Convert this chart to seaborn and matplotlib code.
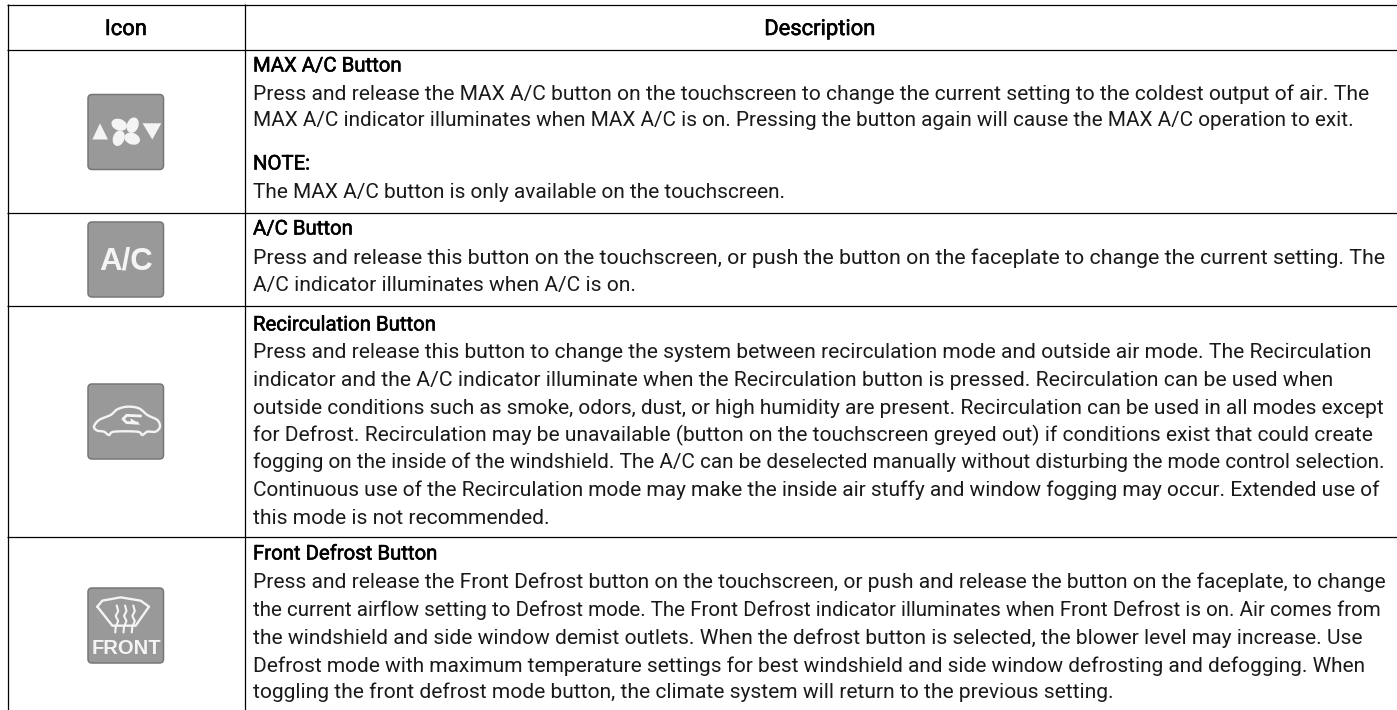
import numpy as np
import matplotlib
matplotlib.use("Agg")
import matplotlib.pyplot as plt
import matplotlib.patheffects as pe
from matplotlib.patches import FancyBboxPatch, Polygon, Ellipse
import seaborn as sns

WIDTH, HEIGHT = 1397, 710
HEADERS = ["Icon", "Description"]
HEADINGS = ["MAX A/C Button", "NOTE:", "A/C Button", "Recirculation Button", "Front Defrost Button"]
HEADING_Y = [71.5, 169.5, 234.5, 330.5, 559.5]
BODY = [
    "Press and release the MAX A/C button on the touchscreen to change the current setting to the coldest output of air. The",
    "MAX A/C indicator illuminates when MAX A/C is on. Pressing the button again will cause the MAX A/C operation to exit.",
    "The MAX A/C button is only available on the touchscreen.",
    "Press and release this button on the touchscreen, or push the button on the faceplate to change the current setting. The",
    "A/C indicator illuminates when A/C is on.",
    "Press and release this button to change the system between recirculation mode and outside air mode. The Recirculation",
    "indicator and the A/C indicator illuminate when the Recirculation button is pressed. Recirculation can be used when",
    "outside conditions such as smoke, odors, dust, or high humidity are present. Recirculation can be used in all modes except",
    "for Defrost. Recirculation may be unavailable (button on the touchscreen greyed out) if conditions exist that could create",
    "fogging on the inside of the windshield. The A/C can be deselected manually without disturbing the mode control selection.",
    "Continuous use of the Recirculation mode may make the inside air stuffy and window fogging may occur. Extended use of",
    "this mode is not recommended.",
    "Press and release the Front Defrost button on the touchscreen, or push and release the button on the faceplate, to change",
    "the current airflow setting to Defrost mode. The Front Defrost indicator illuminates when Front Defrost is on. Air comes from",
    "the windshield and side window demist outlets. When the defrost button is selected, the blower level may increase. Use",
    "Defrost mode with maximum temperature settings for best windshield and side window defrosting and defogging. When",
    "toggling the front defrost mode button, the climate system will return to the previous setting.",
]
BODY_Y = [99.5, 126.5, 198.5, 263.5, 291.5, 358.5, 386, 413.5, 441, 468.5, 496, 523.5,
          588.5, 615.5, 643.5, 671.5, 698.5]
BODY_END = [1370, 1355, 787, 1386, None, 1375, 1333, 1386, 1374, 1386, 1383, None,
            1386, 1386, 1367, 1369, None]
ROW_RULES = [4.5, 49.5, 212.5, 305.5, 536.5]
ICON_TOPS = [94.5, 222, 384, 588]

sns.set_theme(style="white")
plt.rcParams["font.family"] = ["Roboto", "DejaVu Sans"]
fig = plt.figure(figsize=(WIDTH / 100, HEIGHT / 100), dpi=100)
ax = fig.add_axes([0, 0, 1, 1])
ax.set_xlim(0, WIDTH)
ax.set_ylim(HEIGHT, 0)
ax.set_axis_off()

for y in ROW_RULES:
    ax.plot([7, WIDTH], [y, y], color="black", lw=0.9, solid_capstyle="butt")
for x in [7.5, 244.5]:
    ax.plot([x, x], [4, HEIGHT], color="black", lw=0.9, solid_capstyle="butt")

FS = 15.1
renderer = fig.canvas.get_renderer()
stroke = [pe.withStroke(linewidth=0.4, foreground="black")]
ax.text(126, 35, HEADERS[0], ha="center", va="baseline", fontsize=15.8, color="black", path_effects=stroke)
ax.text(820, 35, HEADERS[1], ha="center", va="baseline", fontsize=15.8, color="black", path_effects=stroke)

for y, s, end in zip(BODY_Y, BODY, BODY_END):
    t = ax.text(253, y, s, ha="left", va="baseline", fontsize=FS, color="#1a1a1a")
    if end is not None:
        w = t.get_window_extent(renderer).width
        t.set_fontsize(FS * (end - 253) / w)

# heading size: "MAX A/C Button" is about 0.89 of "Press and release" in the reference
probe_a = ax.text(0, 0, "Press and release", fontsize=FS)
probe_b = ax.text(0, 0, HEADINGS[0], fontsize=FS)
HS = FS * 0.893 * probe_a.get_window_extent(renderer).width / probe_b.get_window_extent(renderer).width
probe_a.remove()
probe_b.remove()
for y, s in zip(HEADING_Y, HEADINGS):
    ax.text(253, y, s, ha="left", va="baseline", fontsize=HS, color="black", path_effects=stroke)

WHITE = "#f4f4f4"
def box(top):
    ax.add_patch(FancyBboxPatch((90, top + 2), 71.5, 71, boxstyle="round,pad=2,rounding_size=4",
                                fc="#999999", ec="#777777", lw=1.1))

def smooth(pts, n=8):
    p = np.array(pts, float)
    out = []
    m = len(p)
    for i in range(m):
        p0, p1, p2, p3 = p[(i - 1) % m], p[i], p[(i + 1) % m], p[(i + 2) % m]
        for t in np.linspace(0, 1, n, endpoint=False):
            out.append(0.5 * (2 * p1 + (p2 - p0) * t + (2 * p0 - 5 * p1 + 4 * p2 - p3) * t ** 2
                              + (3 * p1 - p0 - 3 * p2 + p3) * t ** 3))
    out.append(out[0])
    return np.array(out)

for t in ICON_TOPS:
    box(t)

# MAX A/C icon
ax.add_patch(Polygon([(92.3, 139.5), (108, 139.5), (100, 123.3)], fc=WHITE, ec="none"))
ax.add_patch(Polygon([(142.5, 123.3), (161.3, 123.3), (152.3, 139.5)], fc=WHITE, ec="none"))
for ang, dx, dy in [(20, -6.5, -7), (110, 7, -6.5), (20, 6.5, 7), (110, -7, 6.5)]:
    ax.add_patch(Ellipse((125.7 + dx, 131.7 + dy), 16, 11.5, angle=ang, fc=WHITE, ec="none"))

# A/C icon
ax.text(126, 269, "A/C", ha="center", va="baseline", fontsize=22.5, fontweight="bold",
        family="Liberation Sans", color=WHITE)

# Recirculation icon
car = np.array([(30, 140), (45, 120), (80, 105), (100, 88), (130, 80), (165, 85), (190, 105), (220, 120),
                (228, 140), (215, 155), (190, 155), (175, 165), (160, 155), (90, 155), (75, 165), (60, 155), (40, 152)],
               float) / 3 + (84, 380)
c = smooth(car)
ax.plot(c[:, 0], c[:, 1], color=WHITE, lw=1.7)
inner = np.array([(170, 108), (128, 106), (117, 117), (128, 128), (160, 129)], float) / 3 + (84, 380)
ax.plot(inner[:, 0], inner[:, 1], color=WHITE, lw=2.0, solid_joinstyle="round")
ax.add_patch(Polygon(np.array([(140, 115), (140, 132), (170, 134)], float) / 3 + (84, 380), fc=WHITE, ec="none"))

# Front defrost icon
shield = np.array([(40, 68), (55, 50), (110, 40), (170, 50), (195, 68), (155, 125), (85, 125), (40, 68)],
                  float) / 3 + (84, 584)
ax.plot(shield[:, 0], shield[:, 1], color=WHITE, lw=1.7, solid_joinstyle="round")
for x in [116.7, 125, 133.3]:
    yy = np.array([605.5, 611, 616, 621, 627, 632.5])
    xx = x + np.array([0, 1.5, -1, 1.5, -1, -1.5])
    ax.plot(xx, yy, color=WHITE, lw=1.5)
ax.text(126, 654.5, "FRONT", ha="center", va="baseline", fontsize=14.5, fontweight="bold",
        family="Liberation Sans", color=WHITE)

fig.savefig("out.png", dpi=100, facecolor="white")
